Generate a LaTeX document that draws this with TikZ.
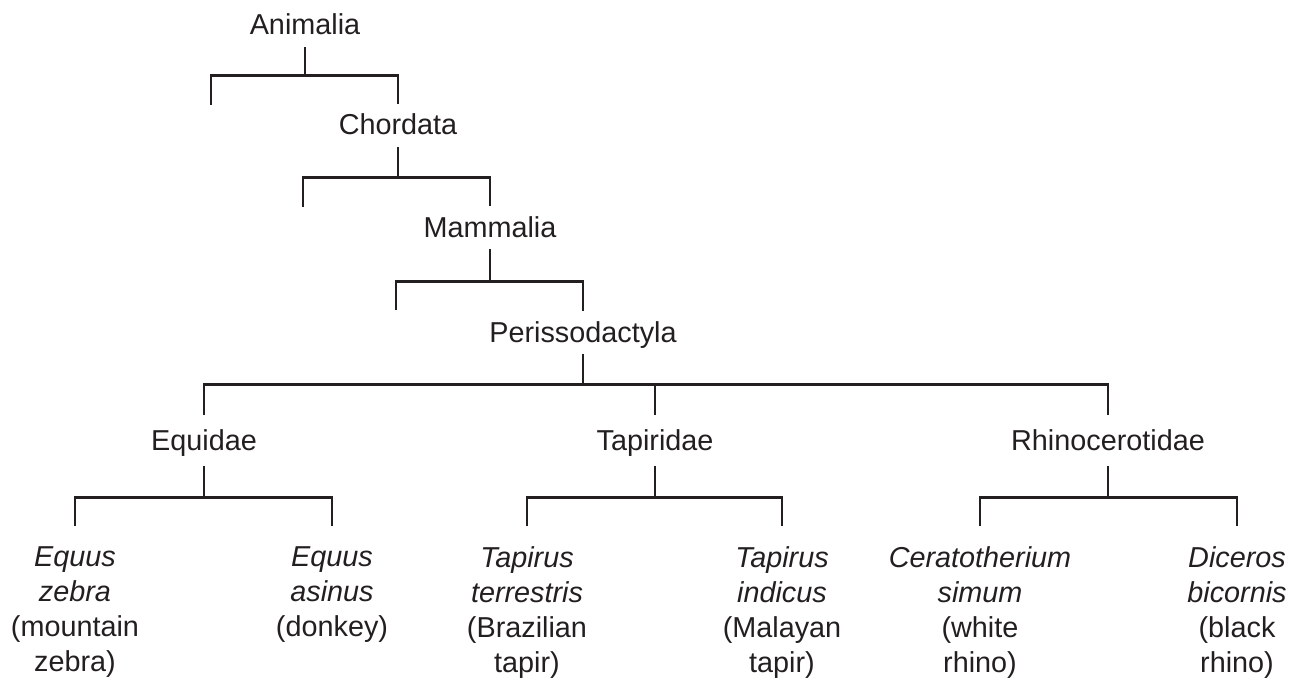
\documentclass[tikz,border=0pt]{standalone}
\usepackage{fontspec}
\setmainfont{Liberation Sans}
\usepackage{tikz}
\definecolor{ink}{HTML}{231F20}
\tikzset{taxon/.style={anchor=base, font=\fontsize{28.8}{35}\selectfont, text=ink, text height=20pt, text depth=1pt, inner xsep=0pt, inner ysep=11pt}}
\tikzset{family/.style={taxon, inner ysep=15pt}}
\tikzset{species/.style={anchor=north, align=center, font=\fontsize{28.8}{35}\selectfont, text=ink, inner xsep=0pt, inner ysep=20pt}}
\tikzset{branch/.style={draw=ink, line width=2.7pt}}

\begin{document}
\begin{tikzpicture}[x=1pt, y=-1pt]
    \useasboundingbox (0,0) rectangle (1292,679);

    \node[taxon] at (305,35) (anim){Animalia};
    \node[taxon] at (398,135) (chor){Chordata};
    \node[taxon] at (490,237) (mamm){Mammalia};
    \node[taxon] at (583,342) (peri){Perissodactyla};

    \coordinate (anim-end) at (211,105);
    \coordinate (chor-end) at (303,207);
    \coordinate (mamm-end) at (396,310);

    \draw[branch] (anim.south) -- ++(0,28) coordinate (anim-bar) -| (chor.north);
    \draw[branch] (anim-bar) -| (anim-end);
    \draw[branch] (chor.south) -- ++(0,30) coordinate (chor-bar) -| (mamm.north);
    \draw[branch] (chor-bar) -| (chor-end);
    \draw[branch] (mamm.south) -- ++(0,32) coordinate (mamm-bar) -| (peri.north);
    \draw[branch] (mamm-bar) -| (mamm-end);

    \node[family] at (204,450) (equi){Equidae};
    \node[family] at (655,450) (tapi){Tapiridae};
    \node[family] at (1108,450) (rhin){Rhinocerotidae};

    \draw[branch] (peri.south) -- ++(0,30) coordinate (peri-bar) -| (equi.north);
    \draw[branch] (peri-bar) -| (tapi.north);
    \draw[branch] (peri-bar) -| (rhin.north);

    \node[species] at (75,526) (ezeb){\textit{Equus}\\\textit{zebra}\\(mountain\\zebra)};
    \node[species] at (332,526) (easi){\textit{Equus}\\\textit{asinus}\\(donkey)};
    \node[species] at (527,526) (tter){\textit{Tapirus}\\\textit{terrestris}\\(Brazilian\\tapir)};
    \node[species] at (782,526) (tind){\textit{Tapirus}\\\textit{indicus}\\(Malayan\\tapir)};
    \node[species] at (980,526) (csim){\textit{Ceratotherium}\\\textit{simum}\\(white\\rhino)};
    \node[species] at (1237,526) (dbic){\textit{Diceros}\\\textit{bicornis}\\(black\\rhino)};

    \draw[branch] (equi.south) -- ++(0,31) coordinate (equi-bar) -| (ezeb.north);
    \draw[branch] (equi-bar) -| (easi.north);
    \draw[branch] (tapi.south) -- ++(0,31) coordinate (tapi-bar) -| (tter.north);
    \draw[branch] (tapi-bar) -| (tind.north);
    \draw[branch] (rhin.south) -- ++(0,31) coordinate (rhin-bar) -| (csim.north);
    \draw[branch] (rhin-bar) -| (dbic.north);
\end{tikzpicture}
\end{document}
